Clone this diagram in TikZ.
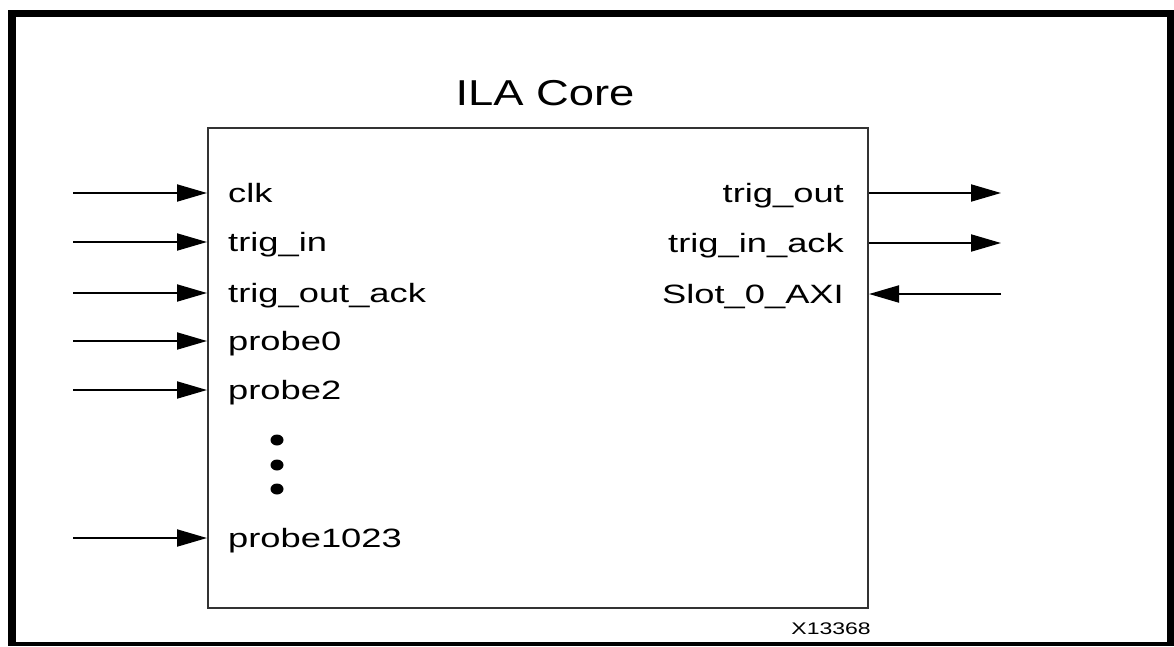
\documentclass[tikz,border=0pt]{standalone}
\usepackage{fontspec}
\usepackage{graphicx}
\setmainfont{Liberation Sans}
\usetikzlibrary{arrows.meta}
\newcommand\wlbl[1]{\scalebox{1.37}[1]{#1}}
\begin{document}
\begin{tikzpicture}[x=1pt,y=-1pt,
  sig/.style={line width=2pt, draw=black, -{Triangle[length=30pt,width=17pt]}},
  lblL/.style={anchor=base west, inner sep=0pt, font=\fontsize{26.5}{30}\selectfont},
  lblR/.style={anchor=base east, inner sep=0pt, font=\fontsize{26.5}{30}\selectfont}]
\useasboundingbox (0,0) rectangle (1174,646);
\fill[black] (8,10) rectangle (1174,646);
\fill[white] (16,17) rectangle (1167,642);
% core box
\node[draw=black!80, line width=2pt, minimum width=660pt, minimum height=480pt, inner sep=0pt] (core) at (538,368) {};
\node[anchor=base, inner sep=0pt, font=\fontsize{36}{40}\selectfont] (title) at (545,105) {\scalebox{1.26}[1]{ILA Core}};
% inputs
\foreach \n/\y/\t in {i1/193/clk, i2/242/trig\_in, i3/293/trig\_out\_ack, i4/341/probe0, i5/390/probe2, i6/538/probe1023}{
  \coordinate (\n) at (73,\y);
  \draw[sig] (\n) -- (\n -| core.west);
  \node[lblL] (\n l) at (228,\y+9) {\wlbl{\t}};
}
% outputs
\foreach \n/\y/\t in {o1/193/trig\_out, o2/243/trig\_in\_ack}{
  \coordinate (\n) at (1001,\y);
  \draw[sig] (\n -| core.east) -- (\n);
  \node[lblR] (\n l) at (844,\y+9) {\wlbl{\t}};
}
\coordinate (o3) at (1001,294);
\draw[sig] (o3) -- (o3 -| core.east);
\node[lblR] (o3l) at (844,303) {\wlbl{Slot\_0\_AXI}};
% dots
\foreach \y in {440,465,489}{
  \fill[black] (277,\y) ellipse [x radius=6.5pt, y radius=5.5pt];
}
\node[anchor=base east, inner sep=0pt, font=\fontsize{16.8}{19}\selectfont] (code) at (871,634) {\scalebox{1.37}[1]{X13368}};
\end{tikzpicture}
\end{document}
